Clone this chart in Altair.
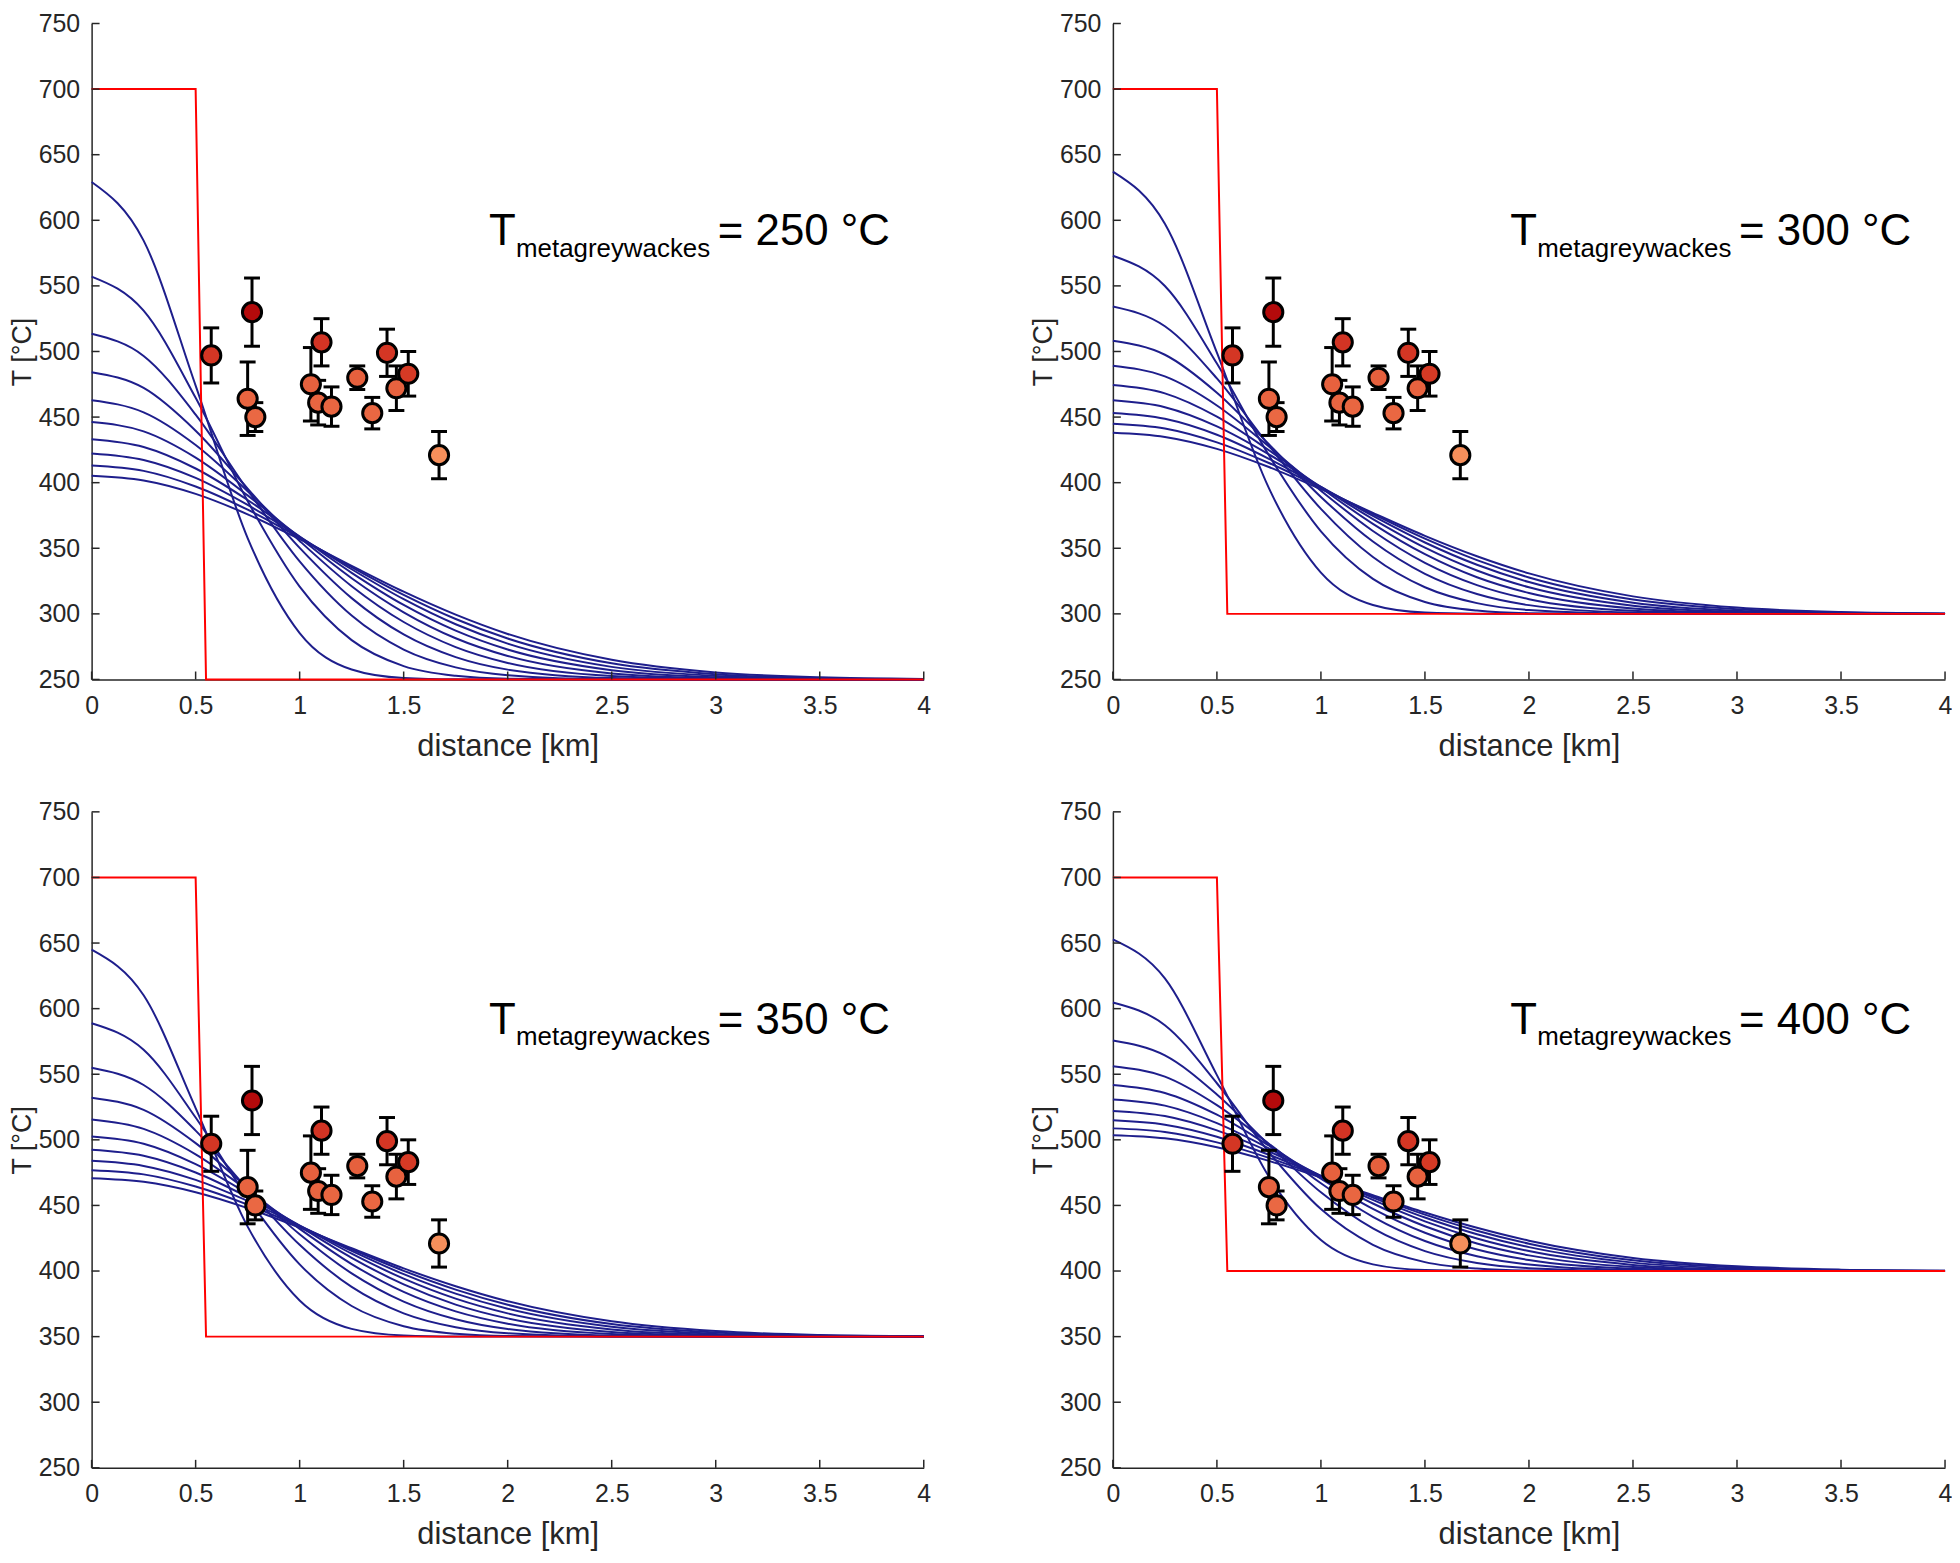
import altair as alt
import pandas as pd

# ---------------- data ----------------
# distance grid (km) at which the model curves were read
DIST = [0, 0.25, 0.5, 0.75, 1.0, 1.25, 1.5, 1.75, 2.0, 2.5, 3.0, 3.5, 4.0]

# model temperature profiles (°C) read from the T_host = 250 °C panel
CURVE_1 = [629.2, 584.5, 474.0, 357.8, 285.4, 257.6, 251.1, 250.1, 250.0, 250.0, 250.0, 250.0, 250.0]
CURVE_2 = [557.1, 531.1, 464.7, 386.0, 320.8, 280.0, 260.2, 252.8, 250.6, 250.0, 250.0, 250.0, 250.0]
CURVE_3 = [513.5, 496.6, 451.9, 394.4, 340.0, 298.7, 272.8, 259.2, 253.3, 250.2, 250.0, 250.0, 250.0]
CURVE_4 = [484.2, 472.2, 439.6, 395.5, 350.3, 312.0, 284.3, 267.0, 257.5, 251.1, 250.1, 250.0, 250.0]
CURVE_5 = [462.8, 453.6, 428.7, 393.5, 355.6, 321.1, 293.8, 274.7, 262.6, 252.6, 250.4, 250.0, 250.0]
CURVE_6 = [446.2, 439.1, 419.1, 390.3, 358.1, 327.2, 301.2, 281.4, 267.9, 254.6, 250.9, 250.1, 250.0]
CURVE_7 = [433.1, 427.2, 410.8, 386.8, 358.9, 331.3, 306.8, 287.2, 272.8, 257.0, 251.7, 250.3, 250.0]
CURVE_8 = [422.3, 417.3, 403.6, 383.0, 358.8, 334.0, 311.2, 292.1, 277.3, 259.6, 252.7, 250.6, 250.1]
CURVE_9 = [413.1, 409.0, 397.1, 379.4, 358.0, 335.6, 314.5, 296.1, 281.2, 262.3, 254.0, 251.0, 250.2]
CURVE_10 = [405.3, 401.7, 391.5, 375.9, 356.9, 336.6, 316.9, 299.4, 284.7, 265.0, 255.4, 251.6, 250.4]
CURVES_250 = [CURVE_1, CURVE_2, CURVE_3, CURVE_4, CURVE_5,
              CURVE_6, CURVE_7, CURVE_8, CURVE_9, CURVE_10]
REF_HOST = 250

# host-rock temperatures of the four panels and the intrusion temperature
T_HOST = [250, 300, 350, 400]
T_INTRUSION = 700
STEP_X = [0, 0.5, 0.55, 4]

# samples (distance km, temperature °C, ± error °C)
SAMPLE_X = [0.575, 0.771, 0.750, 0.787, 1.054, 1.105, 1.089, 1.153, 1.277, 1.349, 1.420, 1.465, 1.522, 1.670]
SAMPLE_T = [497, 530, 464, 450, 475, 507, 461, 458, 480, 453, 499, 472, 483, 421]
SAMPLE_ERR = [21, 26, 28, 11, 28, 18, 17, 15, 9, 12, 18, 17, 17, 18]

X_TICKS = [0, 0.5, 1, 1.5, 2, 2.5, 3, 3.5, 4]
Y_TICKS = [250, 300, 350, 400, 450, 500, 550, 600, 650, 700, 750]

# ---------------- styling ----------------
W, H = 836, 659
FONT = "Liberation Sans"
INK = "#262626"
NAVY = "#1E1E8C"

XAXIS = alt.Axis(title="distance [km]", values=X_TICKS, format="~g", grid=False,
                 ticks=False, tickSize=0, labelFlush=False, labelOverlap=False,
                 labelFontSize=25, labelPadding=14, titleFontSize=31, titlePadding=13)
YAXIS = alt.Axis(title="T [°C]", values=Y_TICKS, format="d", grid=False,
                 ticks=False, tickSize=0, labelFlush=False, labelOverlap=False,
                 labelFontSize=25, labelPadding=12, titleFontSize=27, titlePadding=2)
XS = alt.Scale(domain=[0, 4], nice=False, zero=False)
YS = alt.Scale(domain=[250, 750], nice=False, zero=False)


def X(field="x"):
    return alt.X(f"{field}:Q", scale=XS, axis=XAXIS)


def Y(field="T"):
    return alt.Y(f"{field}:Q", scale=YS, axis=YAXIS)


COLOR = alt.Color("T:Q", legend=None,
                  scale=alt.Scale(domain=[421, 450, 480, 482, 510, 530],
                                  range=["#F68F5B", "#EA6843", "#E6603D", "#D63A25", "#D33324", "#B40A0B"]))


def panel(t0):
    scale = (T_INTRUSION - t0) / (T_INTRUSION - REF_HOST)
    crows = []
    for k, curve in enumerate(CURVES_250):
        for x, t in zip(DIST, curve):
            crows.append({"k": k, "x": x, "T": t0 + (t - REF_HOST) * scale})
    curves = pd.DataFrame(crows)

    step = pd.DataFrame({"x": STEP_X, "T": [T_INTRUSION, T_INTRUSION, t0, t0],
                         "i": list(range(len(STEP_X)))})

    samples = pd.DataFrame({"x": SAMPLE_X, "T": SAMPLE_T, "err": SAMPLE_ERR})
    samples["lo"] = samples["T"] - samples["err"]
    samples["hi"] = samples["T"] + samples["err"]
    caps = pd.DataFrame({"x": SAMPLE_X * 2,
                         "T": list(samples["lo"]) + list(samples["hi"])})

    ytick = pd.DataFrame({"T": Y_TICKS})
    xtick = pd.DataFrame({"x": X_TICKS})

    big = pd.DataFrame({"x": [1.91, 3.01], "T": [581, 581],
                        "label": ["T", f"= {t0} °C"]})
    sub = pd.DataFrame({"x": [2.04], "T": [572], "label": ["metagreywackes"]})

    layers = [
        alt.Chart(curves).mark_line(color=NAVY, strokeWidth=2, interpolate="monotone")
        .encode(x=X(), y=Y(), detail="k:N"),
        alt.Chart(step).mark_line(color="#FF0000", strokeWidth=2)
        .encode(x=X(), y=Y(), order="i:Q"),
        alt.Chart(ytick).mark_rule(color=INK, strokeWidth=1.5)
        .encode(y=Y(), x=alt.value(0), x2=alt.value(8)),
        alt.Chart(xtick).mark_rule(color=INK, strokeWidth=1.5)
        .encode(x=X(), y=alt.value(H), y2=alt.value(H - 8)),
        alt.Chart(samples).mark_rule(color="black", strokeWidth=3)
        .encode(x=X(), y=Y("lo"), y2="hi:Q"),
        alt.Chart(caps).mark_rule(color="black", strokeWidth=3, xOffset=-8, x2Offset=8)
        .encode(x=X(), x2="x:Q", y=Y()),
        alt.Chart(samples).mark_circle(size=370, stroke="black", strokeWidth=3, opacity=1)
        .encode(x=X(), y=Y(), color=COLOR),
        alt.Chart(big).mark_text(align="left", baseline="alphabetic", fontSize=44,
                                 font=FONT, color="black")
        .encode(x=X(), y=Y(), text="label:N"),
        alt.Chart(sub).mark_text(align="left", baseline="alphabetic", fontSize=26,
                                 font=FONT, color="black")
        .encode(x=X(), y=Y(), text="label:N"),
    ]
    return alt.layer(*layers).properties(width=W, height=H)


top = alt.hconcat(panel(T_HOST[0]), panel(T_HOST[1]), spacing=99)
bottom = alt.hconcat(panel(T_HOST[2]), panel(T_HOST[3]), spacing=99)

chart = (
    alt.vconcat(top, bottom, spacing=39)
    .properties(padding=0, background="white")
    .configure(font=FONT)
    .configure_view(strokeWidth=0)
    .configure_axis(domainColor=INK, domainWidth=1.5, labelColor=INK, titleColor=INK,
                    labelFont=FONT, titleFont=FONT, titleFontWeight="normal")
)

chart.save("out.html", embed_options={"renderer": "svg", "actions": False})
